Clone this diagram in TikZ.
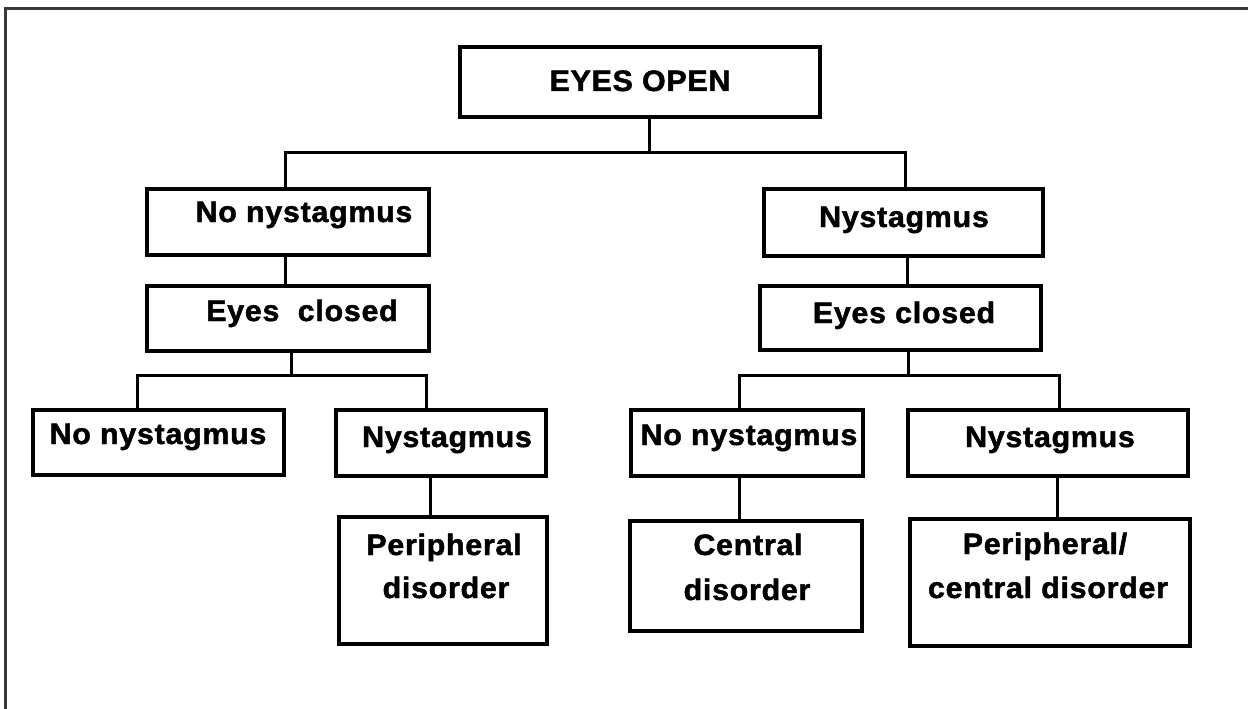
\documentclass[tikz,border=0pt]{standalone}
\usepackage{fontspec}
\setmainfont{Liberation Sans}[FakeStretch=1.03,LetterSpace=2.5,BoldFeatures={FakeBold=1.6}]
\begin{document}
\begin{tikzpicture}[x=1pt,y=-1pt,
  box/.style={draw=black,line width=3.4pt,inner sep=0pt,minimum width=#1},
  lbl/.style={anchor=base,inner sep=0pt,font=\fontsize{29.5}{34}\selectfont\bfseries},
  conn/.style={draw=black,line width=3pt}]
\useasboundingbox (0,0) rectangle (1248,709);
% frame
\draw[line width=3pt,color=black!78] (5,709) -- (5,9) -- (1248,9);
% boxes
\node[box=360pt,minimum height=70pt] (top) at (640,82) {};
\node[box=282pt,minimum height=66pt] (L1) at (288,222) {};
\node[box=279pt,minimum height=67pt] (R1) at (903.5,222.5) {};
\node[box=282pt,minimum height=65pt] (ECL) at (288,318.5) {};
\node[box=281pt,minimum height=64pt] (ECR) at (900.5,318) {};
\node[box=251pt,minimum height=65pt] (LL) at (158.5,442.5) {};
\node[box=210pt,minimum height=66pt] (LR) at (441,443) {};
\node[box=232pt,minimum height=66pt] (RL) at (747,443) {};
\node[box=280pt,minimum height=66pt] (RR) at (1048,443) {};
\node[box=208pt,minimum height=127pt] (PD) at (443,580.5) {};
\node[box=232pt,minimum height=110pt] (CD) at (746,576) {};
\node[box=280pt,minimum height=127pt] (PCD) at (1050,582.5) {};
% labels
\node[lbl] (topt) at (640,91) {EYES OPEN};
\node[lbl] (L1t) at (304,222) {No nystagmus};
\node[lbl] (R1t) at (904,227) {Nystagmus};
\node[lbl] (ECLt) at (302,321) {Eyes~ closed};
\node[lbl] (ECRt) at (904,323) {Eyes closed};
\node[lbl] (LLt) at (158,444) {No nystagmus};
\node[lbl] (LRt) at (447,447) {Nystagmus};
\node[lbl] (RLt) at (749,445) {No nystagmus};
\node[lbl] (RRt) at (1050,447) {Nystagmus};
\node[lbl] (PDa) at (444,555) {Peripheral};
\node[lbl] (PDb) at (446,598) {disorder};
\node[lbl] (CDa) at (748,555) {Central};
\node[lbl] (CDb) at (747,600) {disorder};
\node[lbl] (PCDa) at (1045,554) {Peripheral/};
\node[lbl] (PCDb) at (1048,598) {central disorder};
% junctions
\coordinate (j1) at (649,152);
\coordinate (j2) at (291,375);
\coordinate (j3) at (908,375);
% connectors
\draw[conn] (top.south -| j1) -- (j1);
\draw[conn] ([xshift=-3pt]L1.north) |- (j1) -| ([xshift=1.5pt]R1.north);
\draw[conn] ([xshift=-3pt]L1.south) -- ([xshift=-3pt]ECL.north);
\draw[conn] ([xshift=3.5pt]R1.south) -- ([xshift=3.5pt]R1.south |- ECR.north);
\draw[conn] (ECL.south -| j2) -- (j2);
\draw[conn] ([xshift=-21.5pt]LL.north) |- (j2) -| ([xshift=-15pt]LR.north);
\draw[conn] (ECR.south -| j3) -- (j3);
\draw[conn] ([xshift=-8pt]RL.north) |- (j3) -| ([xshift=11pt]RR.north);
\draw[conn] ([xshift=-11pt]LR.south) -- ([xshift=-11pt]LR.south |- PD.north);
\draw[conn] ([xshift=-8pt]RL.south) -- ([xshift=-8pt]RL.south |- CD.north);
\draw[conn] ([xshift=9pt]RR.south) -- ([xshift=9pt]RR.south |- PCD.north);
\end{tikzpicture}
\end{document}
